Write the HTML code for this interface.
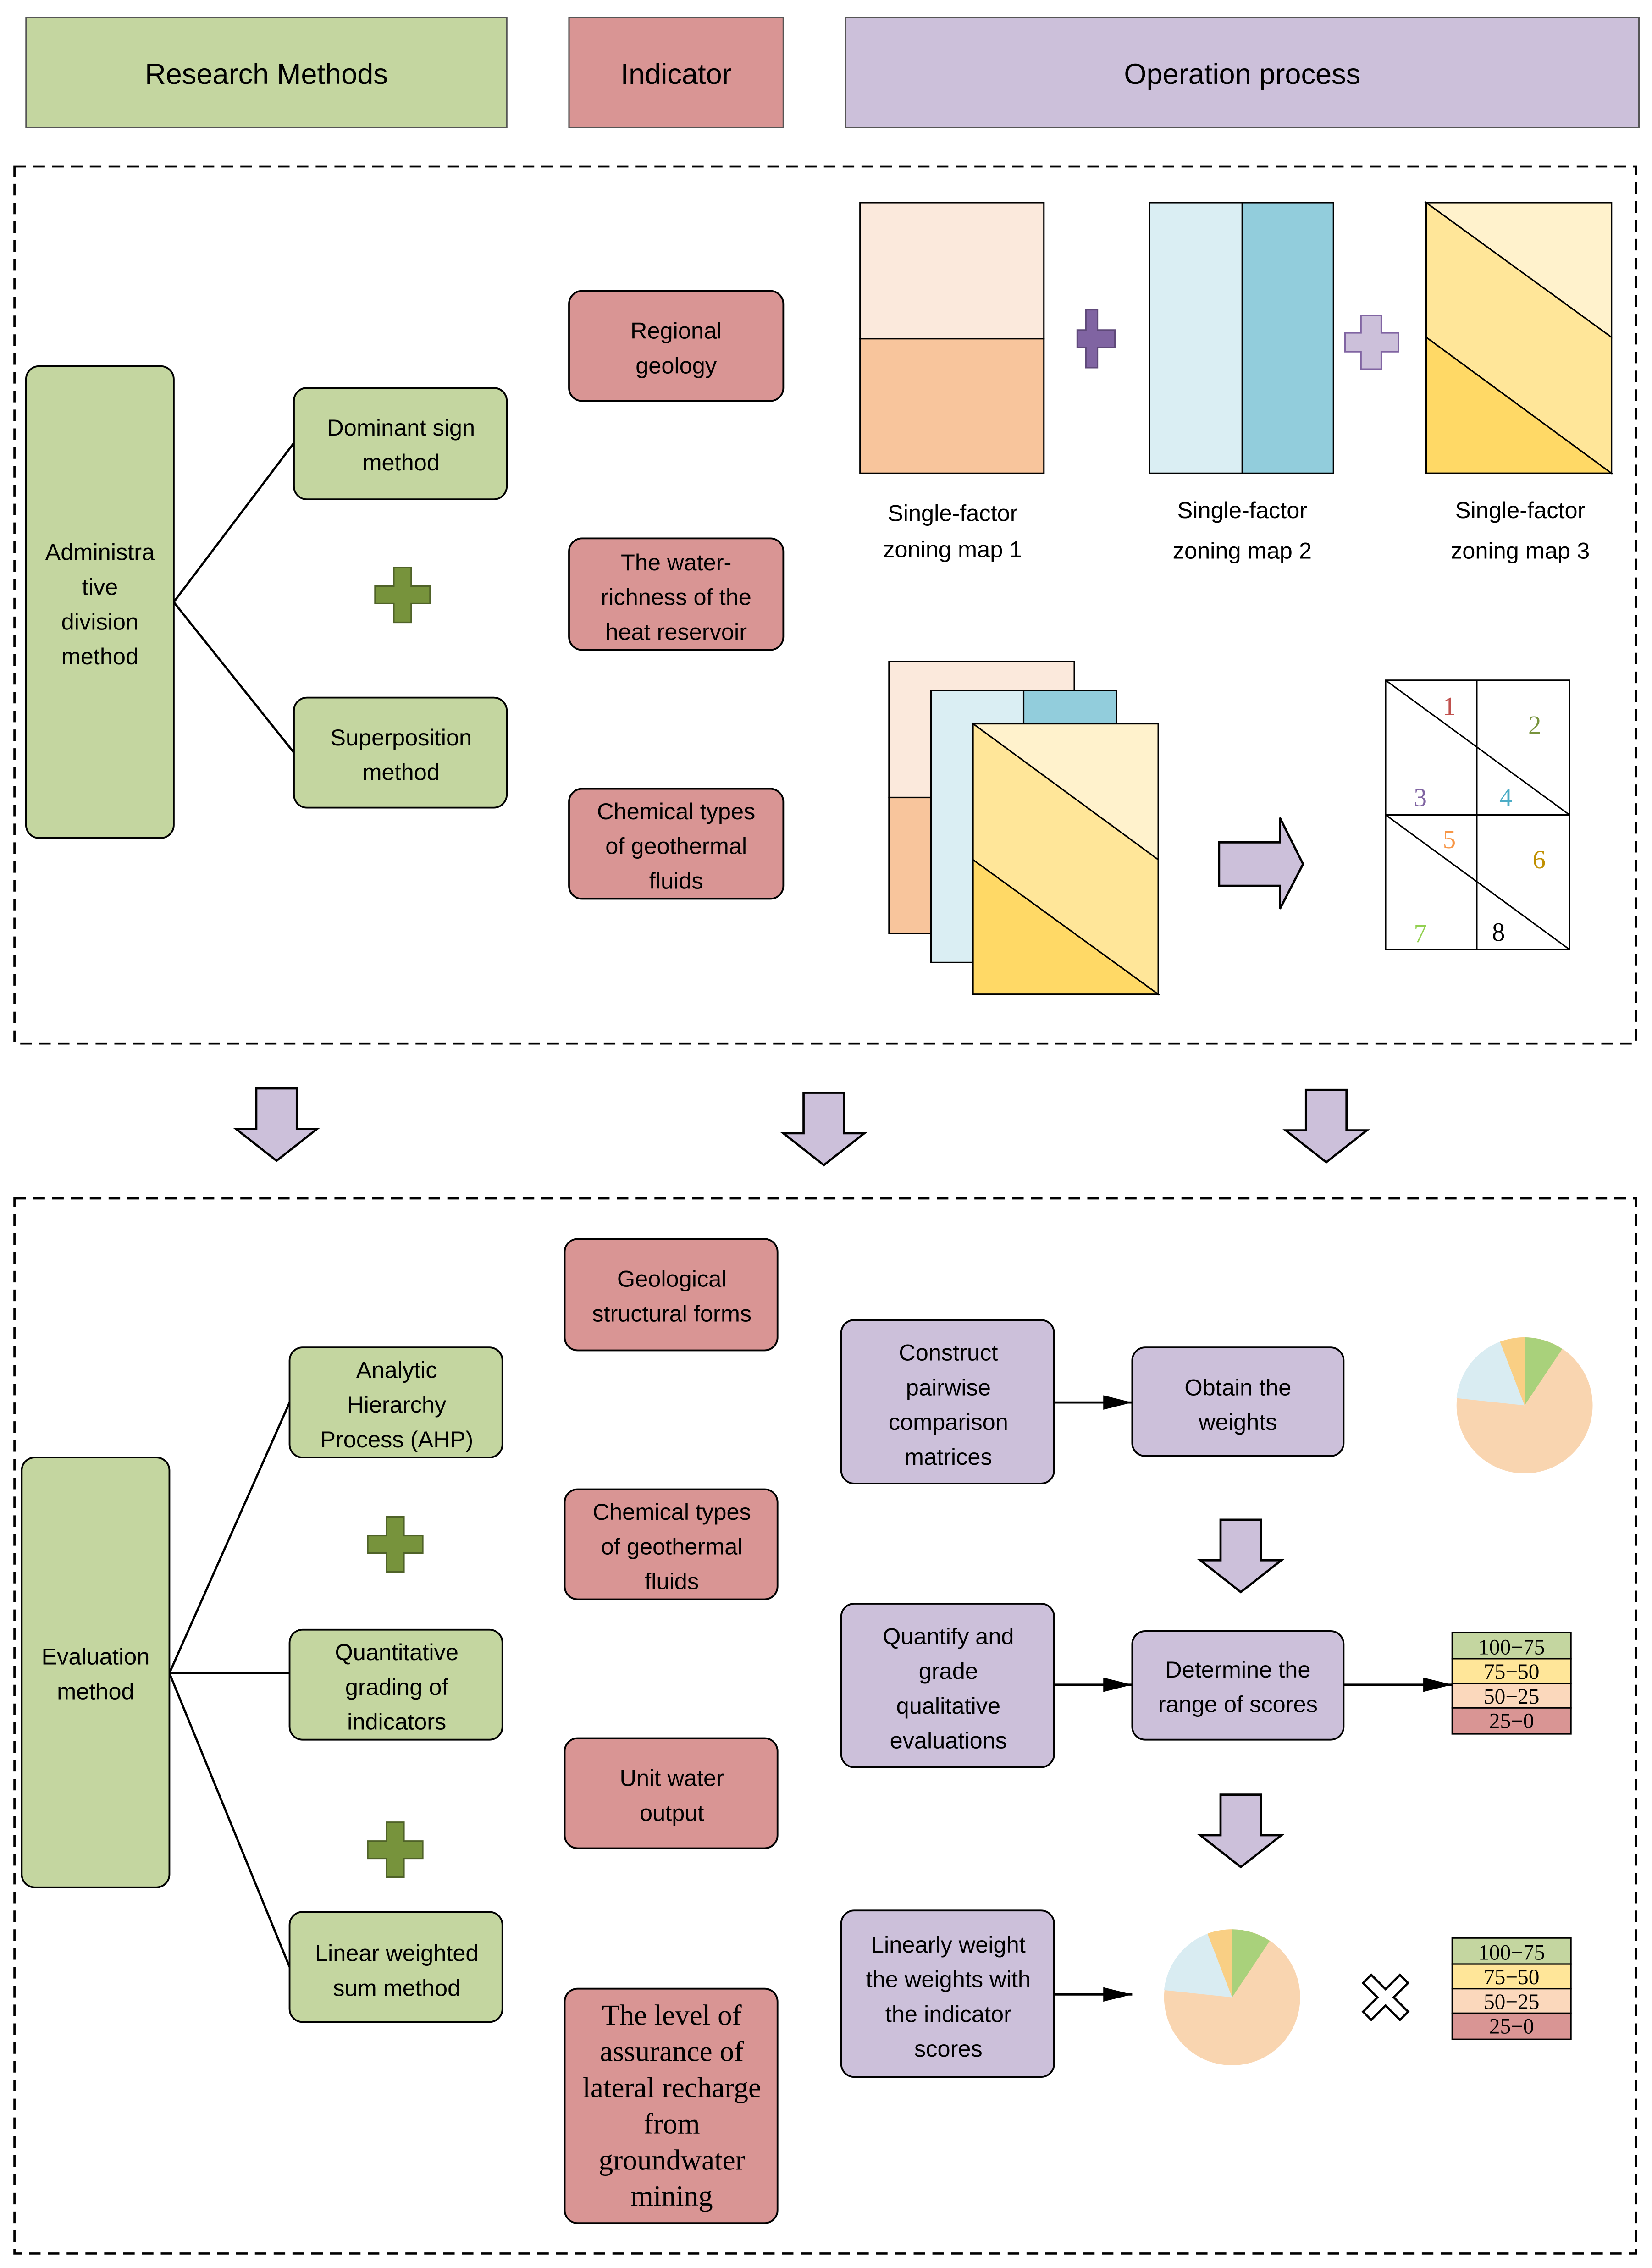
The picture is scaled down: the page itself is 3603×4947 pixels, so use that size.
<!DOCTYPE html>
<html><head><meta charset="utf-8"><style>html,body{margin:0;padding:0;background:#fff}svg{display:block}</style></head>
<body>
<svg xmlns="http://www.w3.org/2000/svg" width="3603" height="4947" viewBox="0 0 1141 1567" preserveAspectRatio="none" font-family="Liberation Sans, sans-serif">
<defs>
<marker id="ah" markerWidth="20" markerHeight="10" refX="20" refY="5" orient="auto" markerUnits="userSpaceOnUse"><path d="M0,0 L20,5 L0,10 Z" fill="#000"/></marker>
<g id="plusg"><path d="M-6,-19 H6 V-6 H19 V6 H6 V19 H-6 V6 H-19 V-6 H-6 Z" fill="#77933c" stroke="#4f6228" stroke-width="1"/></g>
<g id="darr"><path d="M-14,0 H14 V28 H28 L0,50 L-28,28 H-14 Z" fill="#ccc0da" stroke="#000" stroke-width="1.5"/></g>
</defs>
<g stroke="#555" stroke-width="1">
<rect x="18" y="12" width="332" height="76" fill="#c4d6a0"/>
<rect x="393" y="12" width="148" height="76" fill="#d99594"/>
<rect x="584" y="12" width="548" height="76" fill="#ccc0da"/>
</g>
<g font-size="20" text-anchor="middle" fill="#000">
<text x="184" y="58">Research Methods</text>
<text x="467" y="58">Indicator</text>
<text x="858" y="58">Operation process</text>
</g>
<rect x="10" y="115" width="1120" height="606" fill="none" stroke="#000" stroke-width="1.5" stroke-dasharray="8,5"/>
<rect x="10" y="828" width="1120" height="729" fill="none" stroke="#000" stroke-width="1.5" stroke-dasharray="8,5"/>
<g stroke="#000" stroke-width="1.5">
<line x1="120" y1="416" x2="203" y2="306"/><line x1="120" y1="416" x2="203" y2="520"/>
<line x1="117" y1="1156" x2="200" y2="969"/><line x1="117" y1="1156" x2="200" y2="1156"/><line x1="117" y1="1156" x2="200" y2="1359"/>
</g>
<g stroke="#000" stroke-width="1.2">
<rect x="18" y="253" width="102" height="326" rx="9" fill="#c4d6a0"/>
<rect x="203" y="268" width="147" height="77" rx="9" fill="#c4d6a0"/>
<rect x="203" y="482" width="147" height="76" rx="9" fill="#c4d6a0"/>
<rect x="393" y="201" width="148" height="76" rx="9" fill="#d99594"/>
<rect x="393" y="372" width="148" height="77" rx="9" fill="#d99594"/>
<rect x="393" y="545" width="148" height="76" rx="9" fill="#d99594"/>
<rect x="15" y="1007" width="102" height="297" rx="9" fill="#c4d6a0"/>
<rect x="200" y="931" width="147" height="76" rx="9" fill="#c4d6a0"/>
<rect x="200" y="1126" width="147" height="76" rx="9" fill="#c4d6a0"/>
<rect x="200" y="1321" width="147" height="76" rx="9" fill="#c4d6a0"/>
<rect x="390" y="856" width="147" height="77" rx="9" fill="#d99594"/>
<rect x="390" y="1029" width="147" height="76" rx="9" fill="#d99594"/>
<rect x="390" y="1201" width="147" height="76" rx="9" fill="#d99594"/>
<rect x="390" y="1374" width="147" height="162" rx="9" fill="#d99594"/>
<rect x="581" y="912" width="147" height="113" rx="9" fill="#ccc0da"/>
<rect x="782" y="931" width="146" height="75" rx="9" fill="#ccc0da"/>
<rect x="581" y="1108" width="147" height="113" rx="9" fill="#ccc0da"/>
<rect x="782" y="1127" width="146" height="75" rx="9" fill="#ccc0da"/>
<rect x="581" y="1320" width="147" height="115" rx="9" fill="#ccc0da"/>
</g>
<g font-size="16" text-anchor="middle" fill="#000">
<text x="69" y="387">Administra</text><text x="69" y="411">tive</text><text x="69" y="435">division</text><text x="69" y="459">method</text>
<text x="277" y="301">Dominant sign</text><text x="277" y="325">method</text>
<text x="277" y="515">Superposition</text><text x="277" y="539">method</text>
<text x="467" y="234">Regional</text><text x="467" y="258">geology</text>
<text x="467" y="394">The water-</text><text x="467" y="418">richness of the</text><text x="467" y="442">heat reservoir</text>
<text x="467" y="566">Chemical types</text><text x="467" y="590">of geothermal</text><text x="467" y="614">fluids</text>
<text x="658" y="360">Single-factor</text><text x="658" y="385">zoning map 1</text>
<text x="858" y="358">Single-factor</text><text x="858" y="386">zoning map 2</text>
<text x="1050" y="358">Single-factor</text><text x="1050" y="386">zoning map 3</text>
<text x="66" y="1150">Evaluation</text><text x="66" y="1174">method</text>
<text x="274" y="952">Analytic</text><text x="274" y="976">Hierarchy</text><text x="274" y="1000">Process (AHP)</text>
<text x="274" y="1147">Quantitative</text><text x="274" y="1171">grading of</text><text x="274" y="1195">indicators</text>
<text x="274" y="1355">Linear weighted</text><text x="274" y="1379">sum method</text>
<text x="464" y="889">Geological</text><text x="464" y="913">structural forms</text>
<text x="464" y="1050">Chemical types</text><text x="464" y="1074">of geothermal</text><text x="464" y="1098">fluids</text>
<text x="464" y="1234">Unit water</text><text x="464" y="1258">output</text>
<text x="655" y="940">Construct</text><text x="655" y="964">pairwise</text><text x="655" y="988">comparison</text><text x="655" y="1012">matrices</text>
<text x="855" y="964">Obtain the</text><text x="855" y="988">weights</text>
<text x="655" y="1136">Quantify and</text><text x="655" y="1160">grade</text><text x="655" y="1184">qualitative</text><text x="655" y="1208">evaluations</text>
<text x="855" y="1159">Determine the</text><text x="855" y="1183">range of scores</text>
<text x="655" y="1349">Linearly weight</text><text x="655" y="1373">the weights with</text><text x="655" y="1397">the indicator</text><text x="655" y="1421">scores</text>
</g>
<g font-size="20" text-anchor="middle" font-family="Liberation Serif, serif">
<text x="464" y="1399">The level of</text><text x="464" y="1424">assurance of</text><text x="464" y="1449">lateral recharge</text><text x="464" y="1474">from</text><text x="464" y="1499">groundwater</text><text x="464" y="1524">mining</text>
</g>
<use href="#plusg" x="278" y="411"/>
<use href="#plusg" x="273" y="1067"/>
<use href="#plusg" x="273" y="1278"/>
<g stroke="#000" stroke-width="1">
<rect x="594" y="140" width="127" height="94" fill="#fbe9dc"/>
<rect x="594" y="234" width="127" height="93" fill="#f8c59c"/>
<rect x="794" y="140" width="64" height="187" fill="#daeef3"/>
<rect x="858" y="140" width="63" height="187" fill="#92cddc"/>
<polygon points="985,140 1113,140 1113,233" fill="#fff2cc"/>
<polygon points="985,140 1113,233 1113,327 985,233" fill="#ffe699"/>
<polygon points="985,233 1113,327 985,327" fill="#ffd966"/>
<rect x="985" y="140" width="128" height="187" fill="none"/>
<rect x="614" y="457" width="128" height="94" fill="#fbe9dc"/>
<rect x="614" y="551" width="128" height="94" fill="#f8c59c"/>
<rect x="643" y="477" width="128" height="188" fill="#daeef3"/>
<rect x="707" y="477" width="64" height="24" fill="#92cddc"/>
<polygon points="672,500 800,500 800,594" fill="#fff2cc"/>
<polygon points="672,500 800,594 800,687 672,594" fill="#ffe699"/>
<polygon points="672,594 800,687 672,687" fill="#ffd966"/>
<rect x="672" y="500" width="128" height="187" fill="none"/>
<rect x="957" y="470" width="127" height="186" fill="#fff"/>
<line x1="1020" y1="470" x2="1020" y2="656"/><line x1="957" y1="563" x2="1084" y2="563"/>
<line x1="957" y1="470" x2="1084" y2="563"/><line x1="957" y1="563" x2="1084" y2="656"/>
</g>
<path d="M747,231 H753 V217 H761 V231 H773 V243 H761 V257 H753 V243 H747 Z" transform="translate(-3,-3)" fill="#8064a2" stroke="#5f497a"/>
<path d="M929,230 H940 V218 H954 V230 H966 V243 H954 V255 H940 V243 H929 Z" fill="#ccc0da" stroke="#8064a2"/>
<path d="M842,582 H884 V565 L900,597 L884,628 V612 H842 Z" fill="#ccc0da" stroke="#000" stroke-width="1.5"/>
<g font-family="Liberation Serif, serif" font-size="18" text-anchor="middle">
<text x="1001" y="494" fill="#c0504d">1</text><text x="1060" y="507" fill="#77933c">2</text>
<text x="981" y="557" fill="#8064a2">3</text><text x="1040" y="557" fill="#4bacc6">4</text>
<text x="1001" y="586" fill="#f79646">5</text><text x="1063" y="600" fill="#c09000">6</text>
<text x="981" y="651" fill="#92d050">7</text><text x="1035" y="650" fill="#000">8</text>
</g>
<use href="#darr" x="191" y="752"/><use href="#darr" x="569" y="755"/><use href="#darr" x="916" y="753"/>
<use href="#darr" x="857" y="1050"/><use href="#darr" x="857" y="1240"/>
<g stroke="#000" stroke-width="1.5" marker-end="url(#ah)">
<line x1="728" y1="969" x2="782" y2="969"/>
<line x1="728" y1="1164" x2="782" y2="1164"/>
<line x1="928" y1="1164" x2="1003" y2="1164"/>
<line x1="728" y1="1378" x2="782" y2="1378"/>
</g>
<g transform="translate(1053,971)">
<circle r="47" fill="#f9d5b0"/>
<path d="M0,0 L0,-47 A47,47 0 0,1 26,-39 Z" fill="#a9d17b"/>
<path d="M0,0 L-47,-5 A47,47 0 0,1 -17,-44 Z" fill="#d9ecf2"/>
<path d="M0,0 L-17,-44 A47,47 0 0,1 0,-47 Z" fill="#f9cf84"/>
</g>
<g transform="translate(851,1380)">
<circle r="47" fill="#f9d5b0"/>
<path d="M0,0 L0,-47 A47,47 0 0,1 26,-39 Z" fill="#a9d17b"/>
<path d="M0,0 L-47,-5 A47,47 0 0,1 -17,-44 Z" fill="#d9ecf2"/>
<path d="M0,0 L-17,-44 A47,47 0 0,1 0,-47 Z" fill="#f9cf84"/>
</g>
<g font-family="Liberation Serif, serif" font-size="15" text-anchor="middle">
<g transform="translate(1003,1128)">
<rect width="82" height="18" fill="#c4d6a0" stroke="#000"/><rect y="18" width="82" height="17" fill="#ffe699" stroke="#000"/><rect y="35" width="82" height="17" fill="#fbd8bc" stroke="#000"/><rect y="52" width="82" height="18" fill="#d99594" stroke="#000"/>
<text x="41" y="15">100−75</text><text x="41" y="32">75−50</text><text x="41" y="49">50−25</text><text x="41" y="66">25−0</text>
</g>
<g transform="translate(1003,1339)">
<rect width="82" height="18" fill="#c4d6a0" stroke="#000"/><rect y="18" width="82" height="17" fill="#ffe699" stroke="#000"/><rect y="35" width="82" height="17" fill="#fbd8bc" stroke="#000"/><rect y="52" width="82" height="18" fill="#d99594" stroke="#000"/>
<text x="41" y="15">100−75</text><text x="41" y="32">75−50</text><text x="41" y="49">50−25</text><text x="41" y="66">25−0</text>
</g>
</g>
<g transform="translate(957,1380) rotate(45)">
<path d="M-4,-18 H4 V-4 H18 V4 H4 V18 H-4 V4 H-18 V-4 H-4 Z" fill="#fff" stroke="#000" stroke-width="1.5"/>
</g>
</svg>
</body></html>
